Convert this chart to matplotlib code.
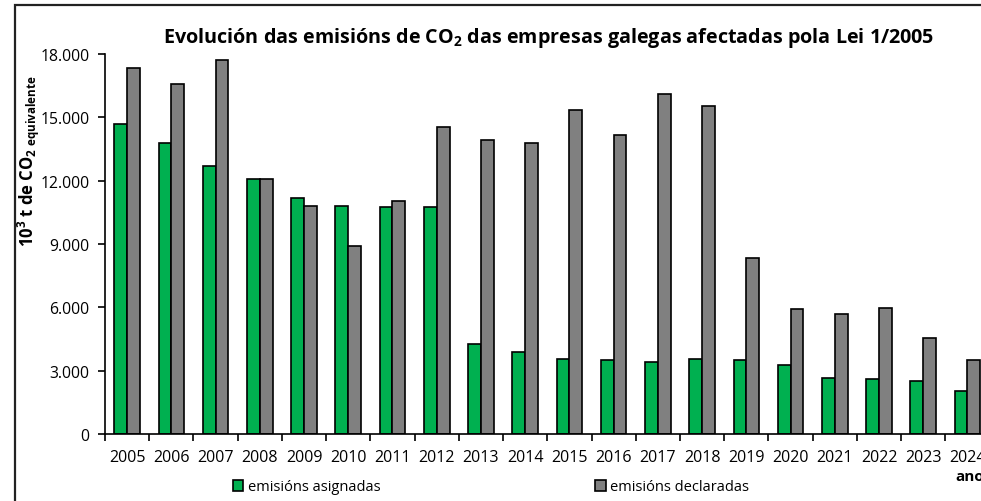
import matplotlib
matplotlib.use('Agg')
import matplotlib.pyplot as plt
from matplotlib.patches import Rectangle
from matplotlib.ticker import FuncFormatter

plt.rcParams['font.family'] = ['Open Sans', 'DejaVu Sans']
plt.rcParams['mathtext.fontset'] = 'custom'
plt.rcParams['mathtext.rm'] = 'Open Sans'
plt.rcParams['mathtext.bf'] = 'Open Sans:bold'

years = [str(y) for y in range(2005, 2025)]
asignadas = [14670, 13770, 12710, 12095, 11195, 10816, 10737, 10737, 4250, 3884,
             3567, 3505, 3426, 3567, 3505, 3268, 2668, 2589, 2510, 2053]
declaradas = [17322, 16579, 17700, 12095, 10816, 8921, 11037, 14526, 13942, 13784,
              15363, 14163, 16105, 15521, 8337, 5905, 5684, 5968, 4563, 3505]
y_ticks = [0, 3000, 6000, 9000, 12000, 15000, 18000]

green = '#00B050'
grey = '#808080'

fig = plt.figure(figsize=(9.81, 5.02), dpi=100)

# outer chart-area frame (partly cut off on the right and bottom)
frame = Rectangle((15 / 981, -0.05), 1.0, 1 - 6 / 502 + 0.05, transform=fig.transFigure,
                  fill=False, edgecolor='#222222', linewidth=1.6, clip_on=False)
fig.patches.append(frame)

ax = fig.add_axes([105 / 981, 67 / 502, 884.6 / 981, 380 / 502])

x = list(range(len(years)))
w = 0.29
ax.bar([i - w / 2 for i in x], asignadas, width=w, color=green, edgecolor='black',
       linewidth=1.2, label='emisións asignadas')
ax.bar([i + w / 2 for i in x], declaradas, width=w, color=grey, edgecolor='black',
       linewidth=1.2, label='emisións declaradas')

ax.set_xlim(-0.5, len(years) - 0.5)
ax.set_ylim(0, 18000)
ax.set_yticks(y_ticks)
ax.yaxis.set_major_formatter(FuncFormatter(lambda v, p: f'{int(v):,}'.replace(',', '.')))

ax.set_xticks([i - 0.5 for i in range(len(years) + 1)])
ax.set_xticklabels([])
ax.set_xticks(x, minor=True)
ax.set_xticklabels(years, minor=True)
ax.tick_params(axis='x', which='major', length=5, width=1.2, direction='out')
ax.tick_params(axis='x', which='minor', length=0, pad=11, labelsize=11.5)
ax.tick_params(axis='y', length=5, width=1.2, labelsize=11.3, pad=6)

for s in ['top', 'right']:
    ax.spines[s].set_visible(False)
for s in ['left', 'bottom']:
    ax.spines[s].set_linewidth(1.2)

fig.text(549 / 981, 1 - 38 / 502, r'Evolución das emisións de CO$_\mathbf{2}$ das empresas galegas afectadas pola Lei 1/2005',
         ha='center', va='center', fontsize=14.2, fontweight='bold')

fig.text(29 / 981, 1 - 161 / 502, r'$\mathbf{10^3}$' + ' t de CO' + r'$_{\mathbf{2\ equivalente}}$',
         rotation=90, ha='center', va='center', fontsize=12, fontweight='bold')

fig.text(955 / 981, 1 - 477 / 502, 'anos', ha='left', va='center', fontsize=11, fontweight='bold')

fig.legend(loc='center', bbox_to_anchor=(491 / 981, 1 - 488 / 502), ncol=2, frameon=False,
           fontsize=10.5, handlelength=0.7, handleheight=0.7, handletextpad=0.3,
           columnspacing=14.75)

fig.savefig('out.png', dpi=100)
